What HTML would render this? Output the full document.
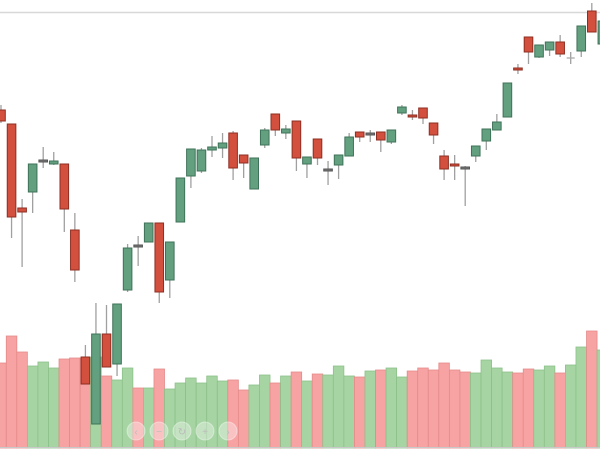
<!DOCTYPE html>
<html><head><meta charset="utf-8"><style>
html,body{margin:0;padding:0;background:#fff;width:600px;height:450px;overflow:hidden}
svg{display:block}
</style></head><body>
<svg id="c" width="600" height="450" xmlns="http://www.w3.org/2000/svg">
<rect width="600" height="450" fill="#fff"/>
<line x1="0" y1="12.5" x2="600" y2="12.5" stroke="#d8d8d8" stroke-width="1.5"/>
<g id="vol"></g>
<g id="cdl"></g>
<line x1="0" y1="447.5" x2="600" y2="447.5" stroke="#c8c8c8" stroke-width="1"/>
<g fill="#ffffff" fill-opacity="0.35" stroke="#ffffff" stroke-opacity="0.4">
<circle cx="136" cy="431" r="9"/><circle cx="159" cy="431" r="9"/><circle cx="182" cy="431" r="9"/><circle cx="205" cy="431" r="9"/><circle cx="228" cy="431" r="9"/>
</g>
<g fill="#bbb" font-family="Liberation Sans, sans-serif" font-size="10" text-anchor="middle">
<text x="136" y="435">‹</text><text x="159" y="435">−</text><text x="182" y="435">↻</text><text x="205" y="435">+</text><text x="228" y="435">›</text>
</g>
</svg>
<script>
// [open, close, high, low]  (pixel y); color derived: g if close<open
var C=[
['r',110,121,105,123],['r',124,217,124,238],['r',208,212,199,267],['g',192,164,164,213],['d',160,160,147,168],
['g',164,161,152,165],['r',164,209,164,232],['r',230,270,213,282],['r',357,384,345,384],['g',424,334,303,424],
['r',334,367,305,367],['g',364,304,304,376],['g',290,248,244,292],['d',245,245,236,266],['g',242,223,223,242],
['r',223,292,223,303],['g',280,242,242,298],['g',222,178,178,222],['g',176,149,149,188],['g',171,150,148,173],
['g',150,147,136,157],['g',148,143,133,158],['r',133,168,131,180],['r',155,163,155,178],['g',189,158,158,189],
['g',145,130,128,148],['r',114,130,114,136],['g',133,129,125,139],['r',121,158,121,171],['g',164,157,157,178],
['r',139,158,139,165],['d',169,169,161,185],['g',165,155,155,179],['g',156,137,133,156],['r',132,137,132,142],
['d',133,133,130,142],['r',132,140,132,152],['g',142,130,130,144],['g',113,107,105,115],['r',115,117,110,120],
['r',108,118,108,124],['r',123,135,123,144],['r',156,169,150,180],['r',164,166,155,180],['d',167,167,166,206],
['g',156,146,146,162],['g',141,129,129,150],['g',130,122,114,130],['g',117,83,83,117],['r',68,70,64,74],
['r',37,52,37,64],['g',57,45,45,58],['g',50,42,42,56],['r',42,54,35,57],['x',58,58,52,64],
['g',51,26,26,57],['r',11,32,3,32],['g',44,21,18,50]];
var V=[['r',363],['r',336],['r',352],['g',366],['g',362],['g',368],['r',359],['r',358],['r',358],['g',357],
['r',376],['g',380],['g',368],['r',388],['g',388],['r',369],['g',389],['g',383],['g',378],['g',383],
['g',376],['g',381],['r',380],['r',390],['g',385],['g',375],['r',383],['g',376],['r',372],['g',381],
['r',374],['g',375],['g',366],['g',376],['r',377],['g',371],['r',370],['g',368],['g',377],['r',371],
['r',368],['r',370],['r',363],['r',370],['r',372],['g',373],['g',360],['g',368],['g',372],['r',373],
['r',369],['g',370],['g',366],['r',373],['g',365],['g',347],['r',331],['g',350]];
var NS='http://www.w3.org/2000/svg',sp=10.55,x0=1;
function el(p,t,a){var e=document.createElementNS(NS,t);for(var k in a)e.setAttribute(k,a[k]);p.appendChild(e);return e;}
var vg=document.getElementById('vol'),cg=document.getElementById('cdl');
V.forEach(function(v,i){var xc=x0+sp*i;
 el(vg,'rect',{x:xc-sp/2,y:v[1],width:sp,height:448-v[1],fill:v[0]=='r'?'#f7a3a3':'#a6d5a3',stroke:v[0]=='r'?'#e48a8a':'#8cc089','stroke-width':0.8});});
C.forEach(function(c,i){var xc=x0+sp*i,t=c[0];
 var top=Math.min(c[1],c[2]),bot=Math.max(c[1],c[2]);
 var fill=t=='g'?'#62a07f':(t=='x'?'#aaa':'#d4503e'),st=t=='g'?'#3f7259':(t=='x'?'#aaa':'#8e2e22');
 if(t=='d'){fill='#777';st='#555';}
 el(cg,'line',{x1:xc,x2:xc,y1:c[3],y2:c[4],stroke:'#a0a0a0','stroke-width':1.3});
 var h=Math.max(bot-top,2);
 if(t=='x'){el(cg,'line',{x1:xc-4,x2:xc+4,y1:top,y2:top,stroke:'#aaa','stroke-width':1.3});return;}
 el(cg,'rect',{x:xc-4.3,y:top,width:8.6,height:h,fill:fill,stroke:st,'stroke-width':1});
});
</script>
</body></html>
